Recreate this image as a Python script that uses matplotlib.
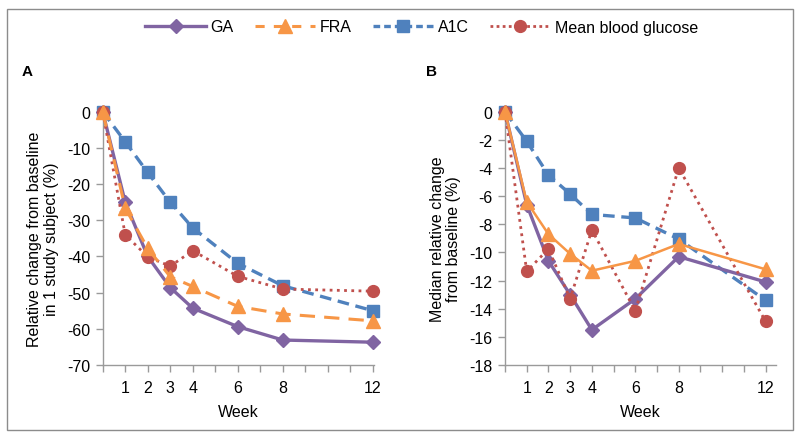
import matplotlib
matplotlib.use("Agg")
import matplotlib.pyplot as plt
from matplotlib.patches import Rectangle
from matplotlib.lines import Line2D

plt.rcParams['font.family'] = ['Liberation Sans', 'DejaVu Sans']
plt.rcParams['axes.unicode_minus'] = False

weeks = [0, 1, 2, 3, 4, 6, 8, 12]
tick_weeks = [1, 2, 3, 4, 6, 8, 12]

# Panel A: relative change from baseline in 1 study subject (%)
a_ga = [0, -25.0, -40.0, -48.6, -54.3, -59.4, -63.1, -63.7]
a_fra = [0, -26.6, -37.8, -45.6, -48.3, -53.8, -55.9, -57.8]
a_a1c = [0, -8.3, -16.8, -25.0, -32.1, -41.9, -48.1, -55.0]
a_mbg = [0, -34.0, -40.1, -42.7, -38.4, -45.5, -49.0, -49.6]

# Panel B: median relative change from baseline (%)
b_ga = [0, -6.6, -10.6, -13.0, -15.5, -13.3, -10.3, -12.1]
b_fra = [0, -6.4, -8.7, -10.1, -11.3, -10.6, -9.4, -11.2]
b_a1c = [0, -2.1, -4.5, -5.85, -7.3, -7.55, -9.05, -13.4]
b_mbg = [0, -11.35, -9.75, -13.3, -8.4, -14.15, -4.0, -14.9]

C_GA = '#8064A2'
C_FRA = '#F79646'
C_A1C = '#4F81BD'
C_MBG = '#C0504D'
AX_C = '#9a9a9a'

fig = plt.figure(figsize=(8, 4.39), dpi=100)
W, H = 800, 439

def fx(px):
    return px / W

def fy(py):
    return 1 - py / H

# figure frame
fig.add_artist(Rectangle((fx(7), fy(431)), fx(793) - fx(7), fy(10) - fy(431),
                         transform=fig.transFigure, fill=False, edgecolor='#8c8c8c', lw=1.0))

axA = fig.add_axes([fx(102.7), fy(366), fx(373.5) - fx(102.7), fy(112.7) - fy(366)])
axB = fig.add_axes([fx(505), fy(366), fx(776) - fx(505), fy(112.7) - fy(366)])

def style(ax, xmax, ylim, yticks):
    ax.set_xlim(0, xmax)
    ax.set_ylim(*ylim)
    for s in ['top', 'right']:
        ax.spines[s].set_visible(False)
    for s in ['left', 'bottom']:
        ax.spines[s].set_color(AX_C)
        ax.spines[s].set_linewidth(1.0)
    ax.set_xticks(range(0, 13))
    ax.set_xticklabels([str(w) if w in tick_weeks else '' for w in range(0, 13)])
    ax.set_yticks(yticks)
    ax.tick_params(axis='both', direction='out', length=5, color=AX_C, width=1.0,
                   labelsize=11.5, pad=4)
    ax.tick_params(axis='x', pad=6)
    ax.set_xlabel('Week', fontsize=11.5, labelpad=6)
    ax.patch.set_alpha(0)

def draw(ax, ga, fra, a1c, mbg, fra_ls):
    ax.plot(weeks, a1c, color=C_A1C, lw=2.4, ls=(0, (3.5, 2)), marker='s', ms=9,
            mfc=C_A1C, mec=C_A1C, clip_on=False, zorder=3)
    ax.plot(weeks, mbg, color=C_MBG, lw=2.0, ls=(0, (1, 1.6)), marker='o', ms=8.5,
            mfc=C_MBG, mec=C_MBG, clip_on=False, zorder=4)
    ax.plot(weeks, fra, color=C_FRA, lw=2.2 if fra_ls != '-' else 1.8, ls=fra_ls,
            marker='^', ms=10, mfc=C_FRA, mec=C_FRA, clip_on=False, zorder=5)
    ax.plot(weeks, ga, color=C_GA, lw=2.4, ls='-', marker='D', ms=7.5,
            mfc=C_GA, mec=C_GA, clip_on=False, zorder=3.5)

draw(axA, a_ga, a_fra, a_a1c, a_mbg, (0, (5, 3)))
draw(axB, b_ga, b_fra, b_a1c, b_mbg, '-')

style(axA, 12.03, (-70, 0), list(range(-70, 1, 10)))
style(axB, 12.48, (-18, 0), list(range(-18, 1, 2)))

axA.set_ylabel('Relative change from baseline\nin 1 study subject (%)', fontsize=11.5, labelpad=6,
               linespacing=1.1)
axB.set_ylabel('Median relative change\nfrom baseline (%)', fontsize=11.5, labelpad=6,
               linespacing=1.1)

fig.text(fx(22), fy(72), 'A', fontsize=11, fontweight='bold', va='center', ha='left')
fig.text(fx(426), fy(72), 'B', fontsize=11, fontweight='bold', va='center', ha='left')

handles = [
    Line2D([], [], color=C_GA, lw=2.4, marker='D', ms=7.5),
    Line2D([], [], color=C_FRA, lw=2.2, ls=(0, (3, 3)), marker='^', ms=10),
    Line2D([], [], color=C_A1C, lw=2.4, ls=(0, (2, 1.2)), marker='s', ms=9),
    Line2D([], [], color=C_MBG, lw=2.0, ls=(0, (1, 1.2)), marker='o', ms=8.5),
]
labels = ['GA', 'FRA', 'A1C', 'Mean blood glucose']
fig.legend(handles, labels, loc='center', bbox_to_anchor=(fx(422), fy(28)), ncol=4,
           frameon=False, fontsize=11.5, handlelength=3.8, handletextpad=0.3,
           columnspacing=1.3)

fig.savefig('out.png', dpi=100)
